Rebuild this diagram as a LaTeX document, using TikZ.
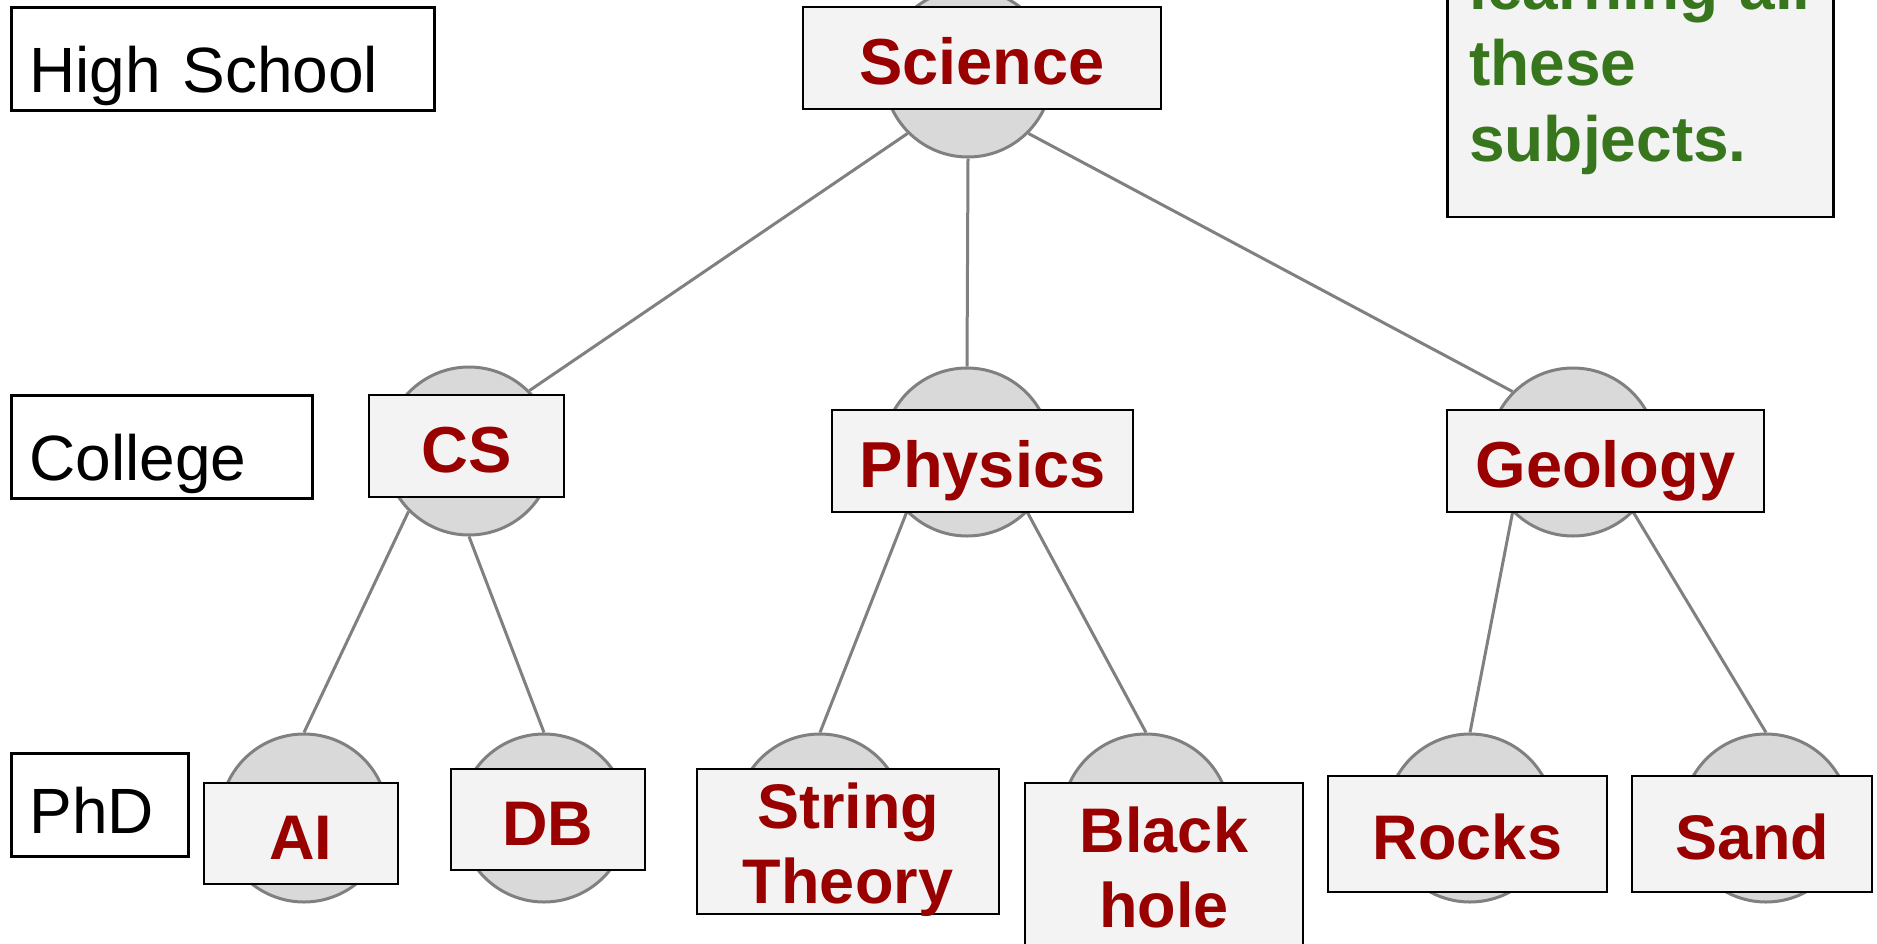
\documentclass[tikz,border=0pt]{standalone}
\usepackage{fontspec}
\setmainfont{Liberation Sans}
\definecolor{topicred}{HTML}{990000}
\definecolor{notegreen}{HTML}{38761D}
\definecolor{boxfill}{HTML}{F3F3F3}
\definecolor{ringfill}{HTML}{D9D9D9}
\definecolor{ringline}{HTML}{808080}

\begin{document}
\begin{tikzpicture}[x=1pt,y=-1pt,
  ring/.style={circle, minimum size=168pt, inner sep=0pt, draw=ringline,
    fill=ringfill, line width=3pt},
  link/.style={draw=ringline, line width=3pt},
  topic/.style={draw=black, line width=2pt, fill=boxfill, inner sep=0pt,
    text=topicred, font=\bfseries\fontsize{65}{78}\selectfont,
    text height=53pt, text depth=0pt},
  leaf/.style={topic, font=\bfseries\fontsize{63}{75}\selectfont,
    text height=51pt},
  level/.style={draw=black, line width=3pt, fill=white, inner xsep=18pt,
    inner ysep=0pt, align=left, font=\fontsize{64}{77}\selectfont,
    text height=67pt, text depth=0pt, anchor=north west,
    minimum height=103pt},
  memo/.style={draw=black, line width=2.5pt, fill=boxfill, inner xsep=22pt,
    inner ysep=0pt, align=left, text=notegreen,
    font=\bfseries\fontsize{64}{76}\selectfont, anchor=south west}
]
\useasboundingbox (0,0) rectangle (1877,943);
\clip (0,0) rectangle (1877,943);

% subject circles
\node[ring] (sciC)  at (968,73)  {};
\node[ring] (csC)   at (469,451) {};
\node[ring] (phyC)  at (967,452) {};
\node[ring] (geoC)  at (1573,452) {};
\node[ring] (aiC)   at (304,818) {};
\node[ring] (dbC)   at (544,818) {};
\node[ring] (strC)  at (820,818) {};
\node[ring] (bhC)   at (1146,818) {};
\node[ring] (rockC) at (1470,818) {};
\node[ring] (sandC) at (1766,818) {};

% tree edges
\draw[link] (sciC.south west) -- (csC.north east);
\draw[link] (sciC.south) -- (phyC.north);
\draw[link] (sciC.south east) -- (geoC.north west);
\draw[link] (csC.south west) -- (aiC.north);
\draw[link] (csC.south) -- (dbC.north);
\draw[link] (phyC.south west) -- (strC.north);
\draw[link] (phyC.south east) -- (bhC.north);
\draw[link] (geoC.south west) -- (rockC.north);
\draw[link] (geoC.south east) -- (sandC.north);

% subject labels
\node[topic, minimum width=358pt, minimum height=102pt] (sci) at (982,58) {Science};
\node[topic, minimum width=195pt, minimum height=102pt] (cs) at (466.5,446) {CS};
\node[topic, minimum width=301pt, minimum height=102pt] (phy) at (982.5,461) {Physics};
\node[topic, minimum width=317pt, minimum height=102pt] (geo) at (1605.5,461) {Geology};
\node[leaf, minimum width=194pt, minimum height=101pt] (ai) at (301,833.5) {AI};
\node[leaf, minimum width=194pt, minimum height=101pt] (db) at (548,819.5) {DB};
\node[leaf, minimum width=302pt, minimum height=145pt, text width=302pt,
  align=center, text height=45pt, text depth=72pt] (str) at (848,841.5) {String\\Theory};
\node[leaf, minimum width=278pt, minimum height=167pt, text width=278pt,
  align=center, text height=45pt, text depth=74pt] (bh) at (1164,866.5) {Black\\hole};
\node[leaf, minimum width=279pt, minimum height=116pt] (rock) at (1467.5,834) {Rocks};
\node[leaf, minimum width=240pt, minimum height=116pt] (sand) at (1752,834) {Sand};

% education levels
\node[level, minimum width=423pt, text width=387pt] (hs) at (10,6) {High School};
\node[level, minimum width=301pt, text width=265pt] (col) at (10,394) {College};
\node[level, minimum width=177pt, text width=141pt, text height=57pt] (phd) at (10,752) {PhD};

% side note
\node[memo, minimum width=386pt, text width=342pt, text height=130pt,
  text depth=207pt] (note) at (1446,218) {learning all\\these\\subjects.};
\end{tikzpicture}
\end{document}
